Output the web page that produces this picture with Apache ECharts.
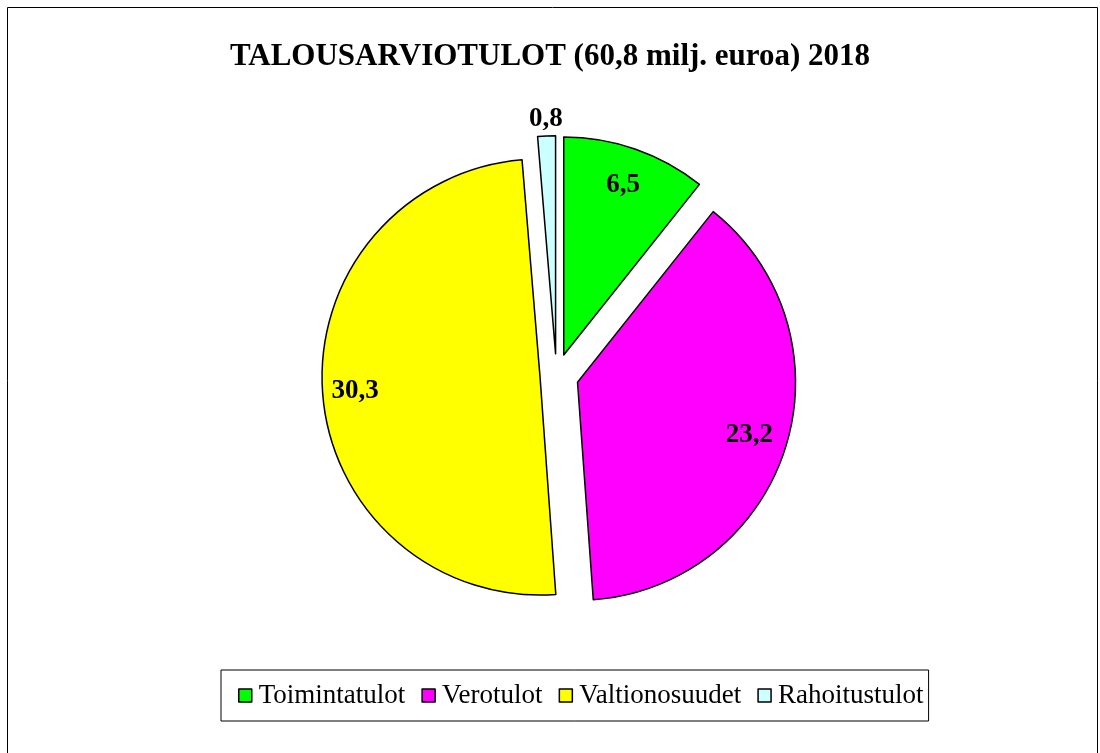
<!DOCTYPE html>
<html>
<head>
<meta charset="utf-8">
<script src="https://cdn.jsdelivr.net/npm/echarts@6/dist/echarts.min.js"></script>
<style>
html,body{margin:0;padding:0;background:#fff;}
#chart{width:1100px;height:753px;}
</style>
</head>
<body>
<div id="chart"></div>
<script>
const titleText = 'TALOUSARVIOTULOT (60,8 milj. euroa) 2018';
const categories = ['Toimintatulot', 'Verotulot', 'Valtionosuudet', 'Rahoitustulot'];
const values = [6.5, 23.2, 30.3, 0.8];
const colors = ['#00ff00', '#ff00ff', '#ffff00', '#ccffff'];

const FONT = '"Liberation Serif", "Times New Roman", serif';
const CENTER = [556.5, 375.8];
const R = 218;
const fmt = v => v.toFixed(1).replace('.', ',');

function sliceData(visible, prefix) {
  return values.map((v, i) => visible.includes(i)
    ? { name: categories[i], value: v, selected: true, itemStyle: { color: colors[i] } }
    : { name: prefix + i, value: v, itemStyle: { color: 'rgba(0,0,0,0)', borderWidth: 0 } });
}

function labelData(shown, prefix) {
  return values.map((v, i) => ({
    name: prefix + i,
    value: v,
    label: { show: shown.includes(i) }
  }));
}

const basePie = {
  type: 'pie',
  center: CENTER,
  radius: R,
  startAngle: 90,
  clockwise: true,
  selectedMode: 'multiple',
  silent: true,
  label: { show: false },
  labelLine: { show: false },
  itemStyle: { borderColor: '#000', borderWidth: 1.5 },
  emphasis: { disabled: true },
  avoidLabelOverlap: false
};

const labelPie = {
  type: 'pie',
  center: CENTER,
  startAngle: 90,
  clockwise: true,
  silent: true,
  itemStyle: { color: 'rgba(0,0,0,0)', borderWidth: 0 },
  labelLine: { show: false },
  emphasis: { disabled: true },
  avoidLabelOverlap: false,
  label: {
    position: 'inside',
    color: '#000',
    fontFamily: FONT,
    fontWeight: 'bold',
    fontSize: 27,
    formatter: p => fmt(p.value)
  }
};

const chart = echarts.init(document.getElementById('chart'), null, { renderer: 'canvas' });
chart.setOption({
  animation: false,
  backgroundColor: '#fff',
  title: {
    text: titleText,
    left: 'center',
    top: 36,
    textStyle: { fontFamily: FONT, fontWeight: 'bold', fontSize: 31, color: '#000' }
  },
  legend: {
    data: categories,
    bottom: 32,
    left: 221,
    orient: 'horizontal',
    icon: 'rect',
    itemWidth: 13,
    itemHeight: 13,
    itemGap: 16,
    padding: [12, 5, 12, 17],
    borderColor: '#000',
    borderWidth: 1,
    selectedMode: false,
    itemStyle: { borderColor: '#000', borderWidth: 1.5 },
    textStyle: { fontFamily: FONT, fontSize: 27, color: '#000', padding: [0, 0, 0, 2] }
  },
  graphic: [{
    type: 'rect',
    shape: { x: 7.5, y: 7.5, width: 1090, height: 800 },
    style: { fill: null, stroke: '#000', lineWidth: 1 },
    silent: true,
    z: 100
  }],
  series: [
    Object.assign({}, basePie, { name: 'main', selectedOffset: 22, data: sliceData([0, 1, 3], '_a') }),
    Object.assign({}, basePie, { name: 'yellow', selectedOffset: 16.5, data: sliceData([2], '_b') }),
    Object.assign({}, labelPie, { name: 'labels', radius: [180, 218], data: labelData([0, 1, 2], '_c') }),
    Object.assign({}, labelPie, { name: 'outerLabel', radius: [236, 272], data: labelData([3], '_d') })
  ]
});
</script>
</body>
</html>
